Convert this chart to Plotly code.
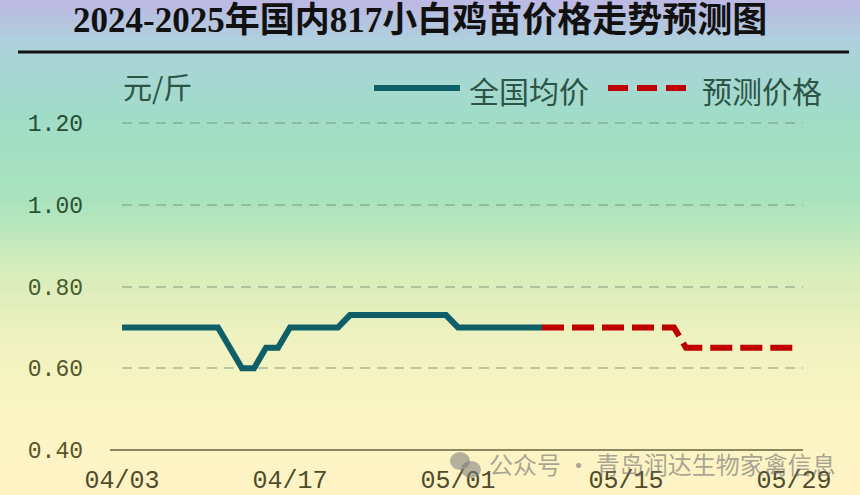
import plotly.graph_objects as go

# national average price (yuan / jin)
actual_dates = ['2025-04-03', '2025-04-11', '2025-04-13', '2025-04-14', '2025-04-15',
                '2025-04-16', '2025-04-17', '2025-04-21', '2025-04-22', '2025-04-30',
                '2025-05-01', '2025-05-08']
actual_prices = [0.70, 0.70, 0.60, 0.60, 0.65, 0.65, 0.70, 0.70, 0.73, 0.73, 0.70, 0.70]

# forecast
forecast_dates = ['2025-05-08', '2025-05-19', '2025-05-20', '2025-05-29']
forecast_prices = [0.70, 0.70, 0.65, 0.65]

x_tick_dates = ['2025-04-03', '2025-04-17', '2025-05-01', '2025-05-15', '2025-05-29']
x_tick_labels = ['04/03', '04/17', '05/01', '05/15', '05/29']
y_tick_vals = [0.40, 0.60, 0.80, 1.00, 1.20]
y_tick_colors = ['#5a5328', '#55552c', '#4a5a30', '#2a5234', '#244e32']

W, H = 860, 495
L, R, T, B = 122, 57, 113, 45
PW, PH = W - L - R, H - T - B


def px_x(x):
    return (x - L) / PW


def px_y(y):
    return (H - B - y) / PH


def hex_rgb(h):
    return tuple(int(h[i:i + 2], 16) for i in (1, 3, 5))


# vertical background gradient (pixel y, colour)
stops = [(0, '#bdb7e3'), (45, '#add3dc'), (115, '#a0dcc8'), (200, '#a9e3bd'),
         (275, '#d8edbb'), (340, '#eff2c0'), (420, '#fcf4c4'), (495, '#fdf3c5')]


def grad_color(y):
    for (y0, c0), (y1, c1) in zip(stops[:-1], stops[1:]):
        if y0 <= y <= y1:
            t = (y - y0) / (y1 - y0)
            a, b = hex_rgb(c0), hex_rgb(c1)
            return 'rgb(%d,%d,%d)' % tuple(round(a[i] + (b[i] - a[i]) * t) for i in range(3))
    return stops[-1][1]


shapes = []
n_bands = 66
band = H / n_bands
for i in range(n_bands):
    y0 = i * band
    shapes.append(dict(type='rect', xref='paper', yref='paper', layer='below',
                       x0=px_x(0), x1=px_x(W), y0=px_y(y0 + band + 0.6), y1=px_y(y0),
                       fillcolor=grad_color(y0 + band / 2), line=dict(width=0)))

# title underline
shapes.append(dict(type='line', xref='paper', yref='paper', x0=px_x(18), x1=px_x(849),
                   y0=px_y(52), y1=px_y(52), line=dict(color='#111111', width=3)))
# x axis line
shapes.append(dict(type='line', xref='paper', yref='paper', x0=px_x(110), x1=1,
                   y0=0, y1=0, line=dict(color='#8a8660', width=2)))
# legend samples
shapes.append(dict(type='line', xref='paper', yref='paper', x0=px_x(374), x1=px_x(460),
                   y0=px_y(88), y1=px_y(88), line=dict(color='#0e5f68', width=6)))
shapes.append(dict(type='line', xref='paper', yref='paper', x0=px_x(608), x1=px_x(688),
                   y0=px_y(88), y1=px_y(88), line=dict(color='#c00000', width=6, dash='20px,9px')))
# wechat-ish icon in the watermark
shapes.append(dict(type='circle', xref='paper', yref='paper', x0=px_x(450), x1=px_x(470),
                   y0=px_y(470), y1=px_y(452), fillcolor='rgba(120,120,120,0.55)', line=dict(width=0)))
shapes.append(dict(type='circle', xref='paper', yref='paper', x0=px_x(461), x1=px_x(481),
                   y0=px_y(478), y1=px_y(461), fillcolor='rgba(120,120,120,0.55)', line=dict(width=0)))

fig = go.Figure()
fig.add_trace(go.Scatter(x=actual_dates, y=actual_prices, mode='lines', name='全国均价',
                         line=dict(color='#0e5f68', width=6), showlegend=False))
fig.add_trace(go.Scatter(x=forecast_dates, y=forecast_prices, mode='lines', name='预测价格',
                         line=dict(color='#c00000', width=6, dash='22px,8px'), showlegend=False))

cjk = 'Noto Sans CJK SC'
annotations = [
    dict(text='<b>2024-2025年国内817小白鸡苗价格走势预测图</b>', x=px_x(420), y=px_y(21),
         font=dict(family='Liberation Serif, ' + cjk, size=35, color='#111111'),
         xanchor='center', yanchor='middle'),
    dict(text='元/斤', x=px_x(121), y=px_y(86), xanchor='left', yanchor='middle',
         font=dict(family=cjk, size=29, color='#2d5446')),
    dict(text='全国均价', x=px_x(467), y=px_y(90), xanchor='left', yanchor='middle',
         font=dict(family=cjk, size=30, color='#2d5446')),
    dict(text='预测价格', x=px_x(700), y=px_y(90), xanchor='left', yanchor='middle',
         font=dict(family=cjk, size=30, color='#2d5446')),
    dict(text='公众号 · 青岛润达生物家禽信息', x=px_x(487), y=px_y(463), xanchor='left',
         yanchor='middle', font=dict(family=cjk, size=24, color='rgba(110,110,110,0.6)')),
]
for a in annotations:
    a.update(xref='paper', yref='paper', showarrow=False)

fig.update_layout(
    width=W, height=H,
    margin=dict(l=L, r=R, t=T, b=B),
    paper_bgcolor='#fdf3c5',
    plot_bgcolor='rgba(0,0,0,0)',
    shapes=shapes,
    annotations=annotations,
    xaxis=dict(type='date', range=['2025-04-03', '2025-05-29 18:00'],
               tickvals=x_tick_dates, ticktext=x_tick_labels,
               showgrid=False, zeroline=False, showline=False, ticks='',
               ticklabelstandoff=12, automargin=False,
               tickfont=dict(family='Liberation Mono', size=25, color='#4f4c2c')),
    yaxis=dict(range=[0.4, 0.4 + PH / 408.75],
               tickvals=y_tick_vals,
               ticktext=['<span style="color:%s">%.2f</span>' % (c, v)
                         for v, c in zip(y_tick_vals, y_tick_colors)],
               showgrid=True, gridcolor='rgba(110,135,115,0.42)', gridwidth=1.5,
               griddash='10px,7px', zeroline=False, showline=False, ticks='',
               ticklabelstandoff=38, automargin=False,
               tickfont=dict(family='Liberation Mono', size=23, color='#4a5a30')),
)

# page margin off so the figure sits at the window's top-left corner
fig.write_html("out.html", config={'displayModeBar': False},
               post_script="document.body.style.margin='0';")
